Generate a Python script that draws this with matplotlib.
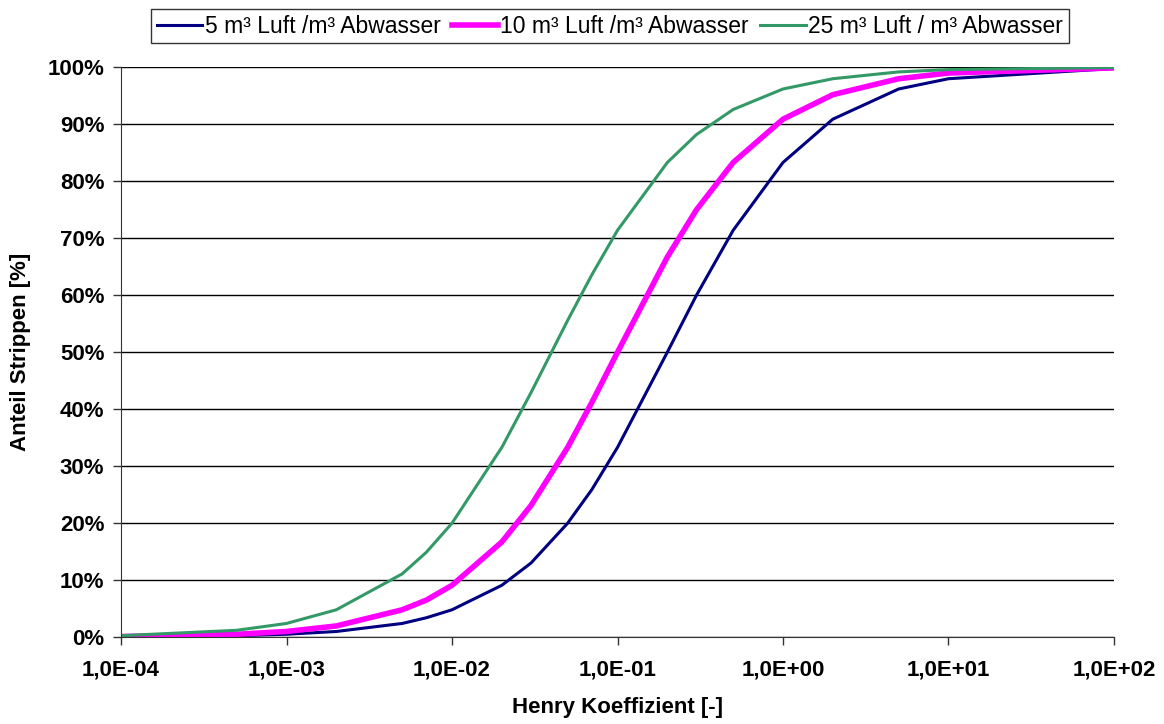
import numpy as np
import matplotlib.pyplot as plt
from matplotlib.ticker import FuncFormatter, FixedLocator, NullLocator

plt.rcParams['font.family'] = ['Liberation Sans', 'DejaVu Sans']

# Henry Koeffizient [-]
henry = [1e-4, 5e-4, 1e-3, 2e-3, 5e-3, 7e-3, 1e-2, 2e-2, 3e-2, 5e-2, 7e-2,
         1e-1, 2e-1, 3e-1, 5e-1, 1, 2, 5, 10, 100]

# Anteil Strippen [%]
luft_5 = [0.05, 0.25, 0.50, 0.99, 2.4, 3.4, 4.8, 9.1, 13.0, 20.0, 25.9,
          33.3, 50.0, 60.0, 71.4, 83.3, 90.9, 96.2, 98.0, 99.8]
luft_10 = [0.10, 0.50, 0.99, 1.96, 4.8, 6.5, 9.1, 16.7, 23.1, 33.3, 41.2,
           50.0, 66.7, 75.0, 83.3, 90.9, 95.2, 98.0, 99.0, 99.9]
luft_25 = [0.25, 1.2, 2.4, 4.8, 11.1, 14.9, 20.0, 33.3, 42.9, 55.6, 63.6,
           71.4, 83.3, 88.2, 92.6, 96.2, 98.0, 99.2, 99.6, 99.96]

labels = ['5 m³ Luft /m³ Abwasser', '10 m³ Luft /m³ Abwasser',
          '25 m³ Luft / m³ Abwasser']

fig = plt.figure(figsize=(11.64, 7.24), dpi=100)
ax = fig.add_axes([0.104, 0.120, 0.853, 0.787])

ax.plot(henry, luft_5, color='#000080', lw=2.2, label=labels[0])
ax.plot(henry, luft_10, color='#FF00FF', lw=4, label=labels[1])
ax.plot(henry, luft_25, color='#339966', lw=2.2, label=labels[2])

ax.set_xscale('log')
ax.set_xlim(1e-4, 1e2)
ax.set_ylim(0, 100)

ax.xaxis.set_major_locator(FixedLocator([10.0 ** e for e in range(-4, 3)]))
ax.xaxis.set_minor_locator(NullLocator())

def sci_fmt(x, pos):
    e = int(round(np.log10(x)))
    return '1,0E%s%02d' % ('+' if e >= 0 else '-', abs(e))

ax.xaxis.set_major_formatter(FuncFormatter(sci_fmt))
ax.set_yticks(np.arange(0, 101, 10))
ax.yaxis.set_major_formatter(FuncFormatter(lambda v, p: '%d%%' % v))

ax.grid(axis='y', color='black', lw=1)
ax.set_axisbelow(True)
for s in ['top', 'right']:
    ax.spines[s].set_visible(False)
for s in ['left', 'bottom']:
    ax.spines[s].set_color('#333333')

ax.tick_params(axis='both', direction='out', length=6, width=1,
               labelsize=16, color='#333333')
for t in ax.get_xticklabels() + ax.get_yticklabels():
    t.set_fontweight('bold')
ax.tick_params(axis='x', pad=10)
ax.tick_params(axis='y', pad=6)

ax.set_xlabel('Henry Koeffizient [-]', fontsize=16, fontweight='bold', labelpad=12)
ax.set_ylabel('Anteil Strippen [%]', fontsize=16, fontweight='bold', labelpad=12)

leg = fig.legend(loc='center', bbox_to_anchor=(0.524, 0.964), ncol=3,
                 fontsize=16.5, frameon=True, fancybox=False,
                 handlelength=2.0, handletextpad=0.1, columnspacing=0.5,
                 borderpad=0.25, borderaxespad=0)
leg.get_frame().set_edgecolor('black')
leg.get_frame().set_linewidth(1)

fig.savefig('out.png', dpi=100)
